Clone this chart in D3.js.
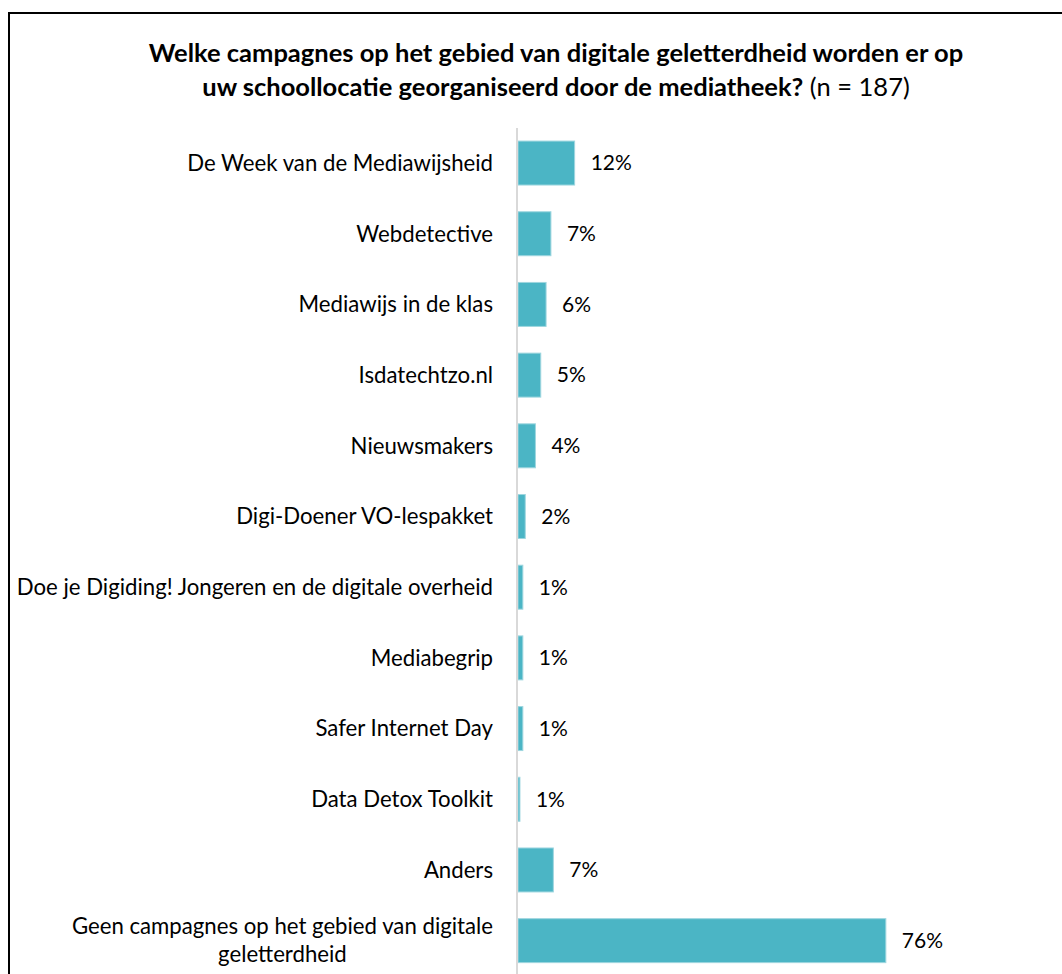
<!DOCTYPE html>
<html><head><meta charset="utf-8">
<script src="https://cdn.jsdelivr.net/npm/d3@7"></script>
<style>body{margin:0;background:#fff;}svg{display:block;}</style>
</head><body>
<script>
const categories = [
  "De Week van de Mediawijsheid",
  "Webdetective",
  "Mediawijs in de klas",
  "Isdatechtzo.nl",
  "Nieuwsmakers",
  "Digi-Doener VO-lespakket",
  "Doe je Digiding! Jongeren en de digitale overheid",
  "Mediabegrip",
  "Safer Internet Day",
  "Data Detox Toolkit",
  "Anders",
  "Geen campagnes op het gebied van digitale geletterdheid"
];
const values = [11.7, 6.8, 5.8, 4.7, 3.6, 1.5, 1.0, 1.0, 1.0, 0.4, 7.3, 76.0];
const valueLabels = ["12%","7%","6%","5%","4%","2%","1%","1%","1%","1%","7%","76%"];
const titleLine1 = "Welke campagnes op het gebied van digitale geletterdheid worden er op";
const titleLine2Bold = "uw schoollocatie georganiseerd door de mediatheek?";
const titleLine2Rest = " (n = 187)";

const W = 1062, H = 974;
const FONT = "Lato, 'Open Sans', sans-serif";
const svg = d3.select("body").append("svg").attr("width", W).attr("height", H);

// frame
svg.append("path").attr("d", "M9,990V13H1070").attr("fill","none").attr("stroke","#000").attr("stroke-width",2);

// title
const t = svg.append("g").attr("font-family", FONT).attr("fill","#000").attr("text-anchor","middle");
t.append("text").attr("x", 556).attr("y", 62).attr("font-size", 25.5).attr("font-weight","bold").text(titleLine1);
const t2 = t.append("text").attr("x", 556).attr("y", 96).attr("font-size", 25.5);
t2.append("tspan").attr("font-weight","bold").text(titleLine2Bold);
t2.append("tspan").text(titleLine2Rest);

const x = d3.scaleLinear().domain([0, 100]).range([518, 1002]);
const y = d3.scaleBand().domain(categories).range([127.7, 976]).paddingInner(0.378).paddingOuter(0.189);

// bars
svg.append("g").selectAll("rect").data(values).join("rect")
  .attr("x", x(0))
  .attr("y", (d,i) => y(categories[i]))
  .attr("width", d => x(d) - x(0))
  .attr("height", y.bandwidth())
  .attr("fill", "#4BB5C5")
  .attr("stroke", "#9ed6df").attr("stroke-width", 1);

// axis line
svg.append("line").attr("x1", 517).attr("x2", 517).attr("y1", 128).attr("y2", 990)
  .attr("stroke", "#d9d9d9").attr("stroke-width", 2);

// value labels
svg.append("g").attr("font-family", FONT).attr("font-size", 21).attr("fill","#000")
  .selectAll("text").data(values).join("text")
  .attr("x", d => x(d) + 16)
  .attr("y", (d,i) => y(categories[i]) + y.bandwidth()/2)
  .attr("dy", "0.35em")
  .text((d,i) => valueLabels[i]);

// category labels
const cg = svg.append("g").attr("font-family", FONT).attr("font-size", 22.2).attr("fill","#000");
categories.forEach((c, i) => {
  const cy = y(c) + y.bandwidth()/2;
  if (i === categories.length - 1) {
    const lines = ["Geen campagnes op het gebied van digitale", "geletterdheid"];
    const tmp = cg.append("text").text(lines[0]);
    const w0 = tmp.node().getComputedTextLength();
    tmp.remove();
    const cx = 493 - w0/2;
    lines.forEach((l, k) => {
      cg.append("text").attr("x", cx).attr("y", cy + (k === 0 ? -14 : 14)).attr("dy","0.35em")
        .attr("text-anchor","middle").text(l);
    });
  } else {
    cg.append("text").attr("x", 493).attr("y", cy).attr("dy","0.35em").attr("text-anchor","end").text(c);
  }
});
</script>
</body></html>
